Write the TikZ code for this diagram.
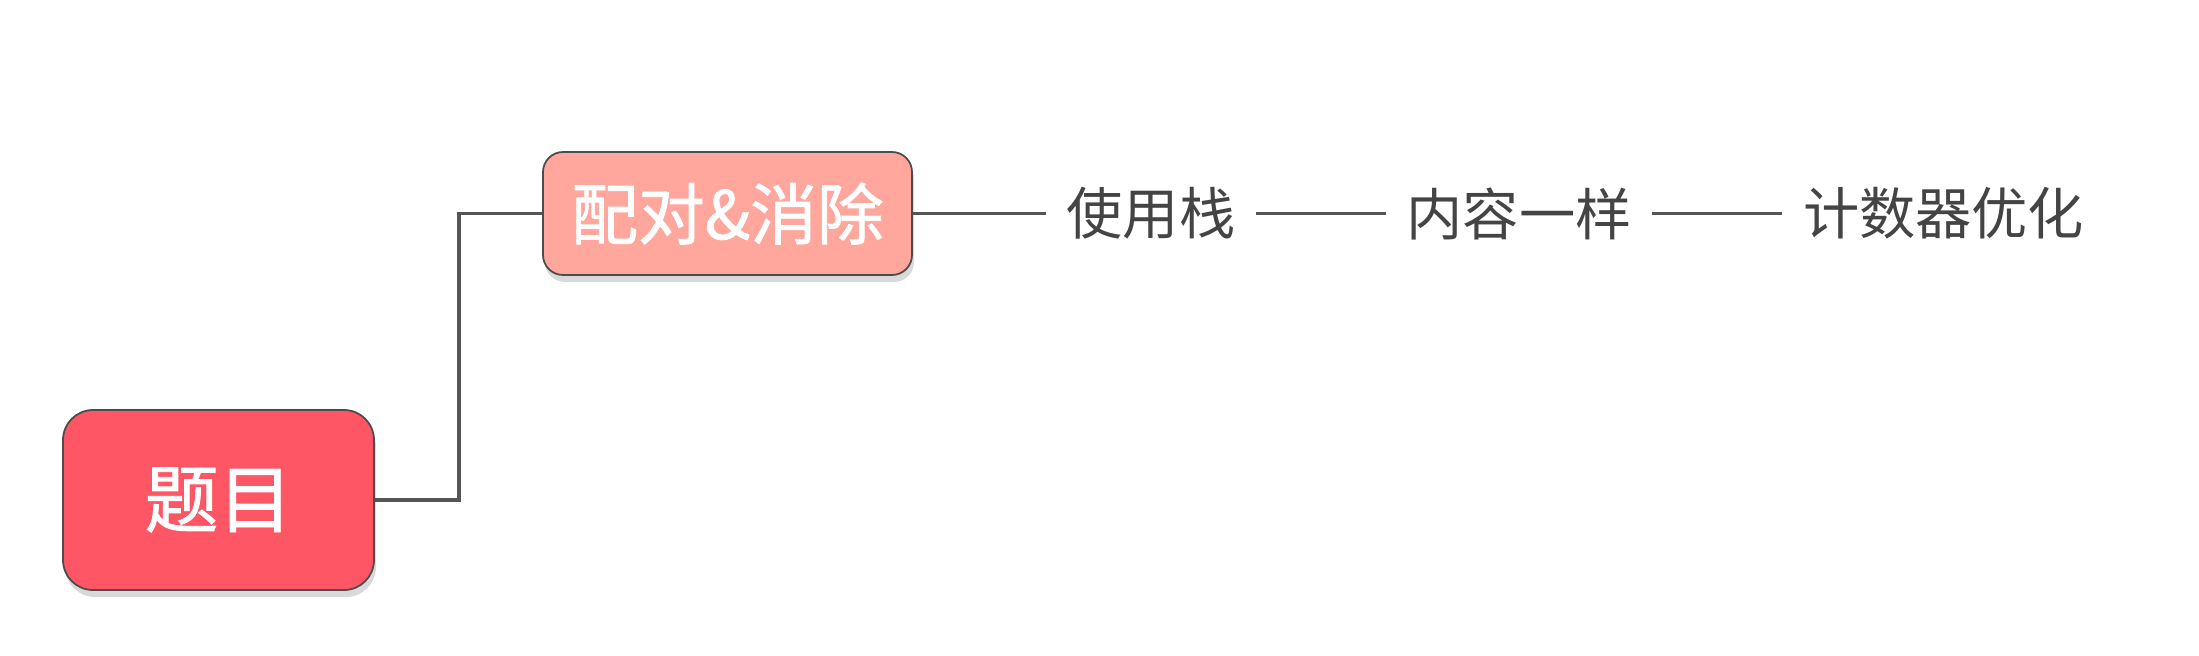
\documentclass[tikz,border=0pt]{standalone}
\usepackage{fontspec}
\newfontfamily\cjk{Noto Sans CJK SC}
\newfontfamily\cjkmed[FakeBold=1.2]{Noto Sans CJK SC}
\usetikzlibrary{positioning,shadows}
\definecolor{rootred}{HTML}{FF5665}
\definecolor{salmon}{HTML}{FFA79D}
\definecolor{linegray}{HTML}{555555}
\definecolor{textgray}{HTML}{444444}
\begin{document}
\begin{tikzpicture}[
    topic/.style={rectangle,draw=gray!60!black,line width=0.5pt,text=white,
        drop shadow={shadow xshift=0.02cm,shadow yshift=-0.07cm,opacity=0.3}},
    leaf/.style={inner sep=0.2cm,text=textgray,font=\cjk\fontsize{16pt}{19pt}\selectfont}]
        \useasboundingbox (0,0) rectangle (21.99,6.55);

        \node[topic,fill=rootred,rounded corners=0.3cm,minimum width=3.11cm,minimum height=1.8cm,
            font=\cjkmed\fontsize{21pt}{25pt}\selectfont] (root) at (2.185,1.55) {题目};
        \node[topic,fill=salmon,rounded corners=0.2cm,minimum width=3.69cm,minimum height=1.23cm,
            font=\cjkmed\fontsize{19pt}{23pt}\selectfont] (pair) at (7.275,4.415) {配对\&消除};
        \node[leaf] (stack) [right=1.33cm of pair] {使用栈};
        \node[leaf] (same) [right=1.3cm of stack] {内容一样};
        \node[leaf] (count) [right=1.3cm of same] {计数器优化};

        \draw[linegray,line width=1.1pt] (root.east) -- ++(0.84,0) |- (pair.west);
        \path[draw,linegray,line width=1.1pt]
        (pair) edge node {} (stack)
        (stack) edge node {} (same)
        (same) edge node {} (count);
    \end{tikzpicture}
\end{document}
